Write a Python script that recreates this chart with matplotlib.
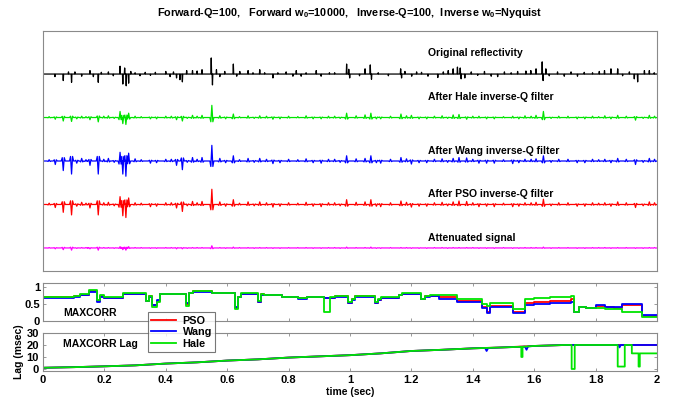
import matplotlib
matplotlib.use("Agg")
import matplotlib.pyplot as plt
import numpy as np

plt.rcParams['font.family'] = ['Liberation Sans', 'DejaVu Sans']
plt.rcParams['font.weight'] = 'bold'
plt.rcParams['mathtext.fontset'] = 'custom'
plt.rcParams['mathtext.rm'] = 'Liberation Sans:bold'
plt.rcParams['mathtext.default'] = 'rm'

# ---------------- data: original reflectivity spikes (time s, amplitude) -------------
refl_t = [0.039, 0.066, 0.083, 0.093, 0.104, 0.126, 0.153, 0.164, 0.180, 0.190, 0.213, 0.229,
          0.251, 0.260, 0.266, 0.271, 0.279, 0.286, 0.300, 0.316, 0.333, 0.350, 0.366, 0.400,
          0.414, 0.425, 0.435, 0.446, 0.454, 0.468, 0.487, 0.502, 0.518, 0.548, 0.552, 0.565,
          0.576, 0.592, 0.620, 0.631, 0.641, 0.668, 0.684, 0.706, 0.722, 0.749, 0.765, 0.792,
          0.814, 0.825, 0.841, 0.857, 0.890, 0.906, 0.933, 0.950, 0.989, 0.996, 0.999, 1.031,
          1.049, 1.066, 1.070, 1.092, 1.125, 1.165, 1.168, 1.179, 1.201, 1.217, 1.233, 1.254,
          1.286, 1.304, 1.320, 1.336, 1.350, 1.359, 1.362, 1.374, 1.395, 1.416, 1.438, 1.460,
          1.481, 1.503, 1.525, 1.546, 1.573, 1.589, 1.606, 1.626, 1.629, 1.638, 1.649, 1.676,
          1.698, 1.720, 1.741, 1.763, 1.790, 1.812, 1.829, 1.850, 1.872, 1.888, 1.910, 1.926,
          1.937, 1.959, 1.975, 1.991]
refl_a = [-0.06, -0.15, 0.05, -0.19, 0.05, -0.05, 0.08, -0.06, -0.19, 0.04, 0.05, -0.04,
          0.18, -0.23, 0.14, -0.27, -0.21, 0.06, 0.03, -0.04, 0.04, -0.03, 0.04, 0.06,
          -0.06, 0.05, -0.09, -0.13, -0.18, 0.08, 0.08, 0.07, 0.10, 0.37, -0.25, 0.10,
          -0.06, 0.06, 0.23, -0.05, 0.06, 0.08, 0.03, 0.10, 0.03, -0.09, 0.03, 0.05,
          -0.05, 0.08, -0.05, 0.03, 0.08, -0.05, 0.03, 0.03, 0.23, 0.11, -0.09, -0.04,
          0.12, 0.21, -0.12, 0.03, -0.04, 0.12, -0.09, 0.06, -0.05, 0.05, 0.04, -0.05,
          -0.08, 0.05, 0.08, 0.12, 0.16, 0.14, -0.11, -0.09, 0.05, -0.03, 0.06, -0.05,
          -0.06, 0.05, 0.03, 0.06, 0.07, 0.08, 0.12, 0.28, -0.15, 0.12, -0.04, 0.05,
          -0.05, 0.05, -0.05, 0.04, 0.03, 0.06, 0.08, 0.12, 0.12, -0.04, 0.05, -0.11,
          -0.18, 0.08, 0.08, 0.03]

# ---------------- data: filtered traces, event times and amplitudes ------------------
ev_t = [0.040, 0.066, 0.093, 0.126, 0.153, 0.180, 0.213, 0.251, 0.260, 0.270, 0.279, 0.300,
        0.350, 0.400, 0.435, 0.454, 0.487, 0.518, 0.550, 0.576, 0.620, 0.668, 0.706, 0.749,
        0.800, 0.857, 0.906, 0.950, 0.989, 1.049, 1.068, 1.100, 1.166, 1.200, 1.250, 1.300,
        1.336, 1.355, 1.380, 1.420, 1.470, 1.530, 1.570, 1.606, 1.630, 1.680, 1.740, 1.790,
        1.830, 1.872, 1.930, 1.975,
        # small wiggles
        0.020, 0.110, 0.140, 0.198, 0.232, 0.320, 0.370, 0.418, 0.470, 0.502,
        0.595, 0.640, 0.688, 0.728, 0.772, 0.830, 0.880, 0.930, 0.968, 1.020,
        1.086, 1.132, 1.184, 1.225, 1.275, 1.318, 1.400, 1.445, 1.500, 1.550,
        1.590, 1.655, 1.710, 1.765, 1.810, 1.850, 1.900, 1.955, 1.992]
hale_a = [-0.04, -0.08, -0.09, 0.03, -0.05, -0.10, 0.04, 0.14, -0.14, -0.16, 0.10, 0.03,
          -0.03, 0.03, -0.05, -0.08, 0.05, 0.05, 0.28, 0.04, 0.08, 0.04, 0.04, -0.04,
          0.03, 0.04, -0.03, 0.03, 0.10, 0.06, 0.10, -0.03, 0.08, 0.05, -0.03, 0.04,
          0.06, 0.07, -0.04, 0.03, -0.03, 0.03, 0.04, 0.05, 0.14, 0.03, -0.03, 0.03,
          0.04, 0.05, -0.06, 0.05,
          0.02, -0.03, 0.02, 0.03, -0.02, 0.02, -0.03, 0.03, -0.02, 0.03,
          -0.03, 0.02, -0.02, 0.03, -0.03, 0.02, -0.03, 0.03, -0.02, 0.04,
          -0.03, 0.03, 0.04, -0.03, 0.03, -0.02, 0.03, -0.03, 0.02, -0.03,
          0.03, -0.02, 0.03, -0.03, 0.02, -0.03, 0.03, -0.02, 0.03]
wang_a = [-0.08, -0.22, -0.30, 0.06, -0.10, -0.30, 0.06, 0.20, -0.30, -0.35, 0.18, 0.05,
          -0.05, 0.04, -0.10, -0.20, 0.08, 0.08, 0.36, 0.06, 0.12, 0.06, 0.06, -0.06,
          0.04, 0.05, -0.05, 0.04, 0.12, 0.06, 0.12, -0.05, 0.08, -0.07, -0.04, 0.05,
          0.06, 0.08, 0.07, -0.05, -0.05, -0.06, 0.04, 0.05, 0.12, 0.04, -0.04, 0.04,
          0.04, 0.06, -0.08, 0.06,
          0.03, -0.05, 0.03, 0.04, -0.03, 0.03, -0.04, 0.04, -0.03, 0.04,
          -0.04, 0.03, -0.03, 0.04, -0.04, 0.03, -0.04, 0.04, -0.03, 0.05,
          -0.04, 0.04, 0.05, -0.04, 0.04, -0.03, 0.04, -0.05, 0.03, -0.04,
          0.04, -0.03, 0.04, -0.04, 0.03, -0.04, 0.04, -0.03, 0.04]
pso_a = [-0.07, -0.18, -0.24, 0.05, -0.08, -0.24, 0.05, 0.18, -0.26, -0.30, 0.15, 0.04,
         -0.05, 0.04, -0.08, -0.16, 0.07, 0.07, 0.35, 0.06, 0.11, 0.06, 0.06, -0.06,
         0.04, 0.05, -0.05, 0.04, 0.11, 0.06, 0.11, -0.05, 0.08, -0.06, -0.04, 0.05,
         0.06, 0.08, 0.07, -0.05, -0.05, -0.05, 0.04, 0.05, 0.12, 0.04, -0.04, 0.04,
         0.04, 0.06, -0.07, 0.06,
         0.03, -0.04, 0.03, 0.04, -0.03, 0.03, -0.04, 0.04, -0.03, 0.04,
         -0.04, 0.03, -0.03, 0.04, -0.04, 0.03, -0.04, 0.04, -0.03, 0.05,
         -0.04, 0.04, 0.05, -0.04, 0.04, -0.03, 0.04, -0.04, 0.03, -0.04,
         0.04, -0.03, 0.04, -0.04, 0.03, -0.04, 0.04, -0.03, 0.04]
atten_a = [-0.02, -0.04, -0.05, 0.01, -0.02, -0.05, 0.01, 0.03, -0.04, -0.05, 0.03, 0.01,
           -0.01, 0.01, -0.02, -0.02, 0.01, 0.01, 0.05, 0.01, 0.02, 0.01, 0.01, -0.01,
           0.01, 0.01, -0.01, 0.01, 0.02, 0.01, 0.02, -0.01, 0.01, -0.01, -0.01, 0.01,
           0.01, 0.01, 0.01, -0.01, -0.01, -0.01, 0.01, 0.01, 0.02, 0.01, -0.01, 0.01,
           0.01, 0.01, -0.01, 0.01,
           0.01, -0.01, 0.01, 0.01, -0.01, 0.01, -0.01, 0.01, -0.01, 0.01,
           -0.01, 0.01, -0.01, 0.01, -0.01, 0.01, -0.01, 0.01, -0.01, 0.01,
           -0.01, 0.01, 0.01, -0.01, 0.01, -0.01, 0.01, -0.01, 0.01, -0.01,
           0.01, -0.01, 0.01, -0.01, 0.01, -0.01, 0.01, -0.01, 0.01]

trace_labels = ["Original reflectivity", "After Hale inverse-Q filter", "After Wang inverse-Q filter",
                "After PSO inverse-Q filter", "Attenuated signal"]

# ---------------- data: MAXCORR (step values starting at each time) -------------------
corr_t = [0.00, 0.10, 0.12, 0.15, 0.175, 0.185, 0.20, 0.26, 0.335, 0.345, 0.355, 0.37, 0.38,
          0.465, 0.475, 0.49, 0.55, 0.625, 0.635, 0.645, 0.70, 0.71, 0.72, 0.78, 0.83, 0.86,
          0.915, 0.935, 0.95, 0.995, 1.005, 1.015, 1.08, 1.09, 1.10, 1.16, 1.17, 1.23, 1.245,
          1.26, 1.29, 1.35, 1.43, 1.445, 1.455, 1.53, 1.57, 1.60, 1.65, 1.72, 1.73, 1.745,
          1.77, 1.80, 1.83, 1.86, 1.885, 1.905, 1.95, 2.00]
corr_wang = [0.68, 0.72, 0.76, 0.86, 0.55, 0.72, 0.68, 0.80, 0.58, 0.72, 0.48, 0.62, 0.80,
             0.52, 0.82, 0.86, 0.84, 0.40, 0.72, 0.80, 0.55, 0.78, 0.78, 0.72, 0.66, 0.70,
             0.68, 0.68, 0.72, 0.52, 0.62, 0.72, 0.52, 0.62, 0.68, 0.76, 0.80, 0.64, 0.72,
             0.74, 0.66, 0.56, 0.38, 0.24, 0.42, 0.25, 0.47, 0.50, 0.53, 0.57, 0.26, 0.42,
             0.38, 0.46, 0.42, 0.40, 0.50, 0.50, 0.18, 0.18]
corr_pso = [0.70, 0.73, 0.78, 0.88, 0.58, 0.75, 0.69, 0.81, 0.59, 0.73, 0.46, 0.60, 0.81,
            0.50, 0.83, 0.87, 0.84, 0.38, 0.72, 0.81, 0.56, 0.79, 0.78, 0.72, 0.67, 0.70,
            0.68, 0.69, 0.73, 0.53, 0.64, 0.73, 0.53, 0.63, 0.69, 0.77, 0.81, 0.65, 0.73,
            0.75, 0.70, 0.60, 0.42, 0.28, 0.45, 0.28, 0.52, 0.55, 0.59, 0.64, 0.26, 0.41,
            0.37, 0.44, 0.41, 0.38, 0.47, 0.46, 0.16, 0.16]
corr_hale = [0.72, 0.74, 0.80, 0.90, 0.62, 0.78, 0.70, 0.82, 0.60, 0.74, 0.40, 0.55, 0.80,
             0.45, 0.84, 0.88, 0.84, 0.36, 0.72, 0.82, 0.58, 0.80, 0.78, 0.72, 0.68, 0.70,
             0.28, 0.70, 0.74, 0.55, 0.66, 0.74, 0.55, 0.64, 0.70, 0.78, 0.82, 0.66, 0.74,
             0.76, 0.76, 0.66, 0.50, 0.45, 0.54, 0.36, 0.66, 0.68, 0.70, 0.74, 0.28, 0.40,
             0.38, 0.38, 0.36, 0.34, 0.28, 0.26, 0.12, 0.12]

# ---------------- data: MAXCORR Lag (msec) --------------------------------------------
lag_pso_t = [0.0, 0.1, 0.2, 0.3, 0.4, 0.5, 0.6, 0.7, 0.8, 0.9, 1.0, 1.1, 1.2, 1.3, 1.4, 1.5,
             1.6, 1.7, 2.0]
lag_pso = [1.0, 1.5, 2.2, 3.0, 4.5, 5.5, 7.0, 8.0, 9.5, 10.5, 11.5, 13.0, 15.0, 16.0, 17.2, 18.0,
           19.2, 20.0, 20.0]
lag_wang_t = [0.0, 0.1, 0.2, 0.3, 0.4, 0.5, 0.6, 0.7, 0.8, 0.9, 1.0, 1.1, 1.2, 1.3, 1.4, 1.44,
              1.445, 1.45, 1.5, 1.57, 1.575, 1.58, 1.6, 1.7, 1.875, 1.878, 1.882, 2.0]
lag_wang = [1.0, 1.5, 2.2, 3.0, 4.5, 5.5, 7.0, 8.0, 9.5, 10.5, 11.5, 13.0, 15.0, 16.0, 17.2, 17.5,
            15.0, 17.5, 18.0, 18.6, 16.0, 18.8, 19.2, 20.0, 20.0, 18.0, 20.0, 20.0]
lag_hale_t = [0.0, 0.1, 0.2, 0.3, 0.4, 0.5, 0.6, 0.7, 0.8, 0.9, 1.0, 1.1, 1.2, 1.3, 1.4, 1.5,
              1.558, 1.558, 1.562, 1.562, 1.6, 1.7, 1.722, 1.722, 1.732, 1.732, 1.872, 1.872,
              1.895, 1.895, 1.918, 1.918, 1.94, 1.94, 1.944, 1.944, 2.0]
lag_hale = [1.0, 1.5, 2.2, 3.0, 4.5, 5.5, 7.0, 8.0, 9.5, 10.5, 11.5, 13.0, 15.0, 16.0, 17.2, 18.0,
            18.5, 10.0, 10.0, 18.5, 19.2, 20.0, 20.0, 0.0, 0.0, 20.0, 20.0, 2.0,
            2.0, 20.0, 20.0, 13.0, 13.0, 2.0, 2.0, 13.0, 13.0]

x_ticks = [0, 0.2, 0.4, 0.6, 0.8, 1, 1.2, 1.4, 1.6, 1.8, 2]
x_tick_labels = ["0", "0.2", "0.4", "0.6", "0.8", "1", "1.2", "1.4", "1.6", "1.8", "2"]

# ---------------- styles ----------------
C_BLACK = "black"
C_GREEN = "#00e400"
C_BLUE = "#0000ff"
C_RED = "#ff0000"
C_MAG = "#ff00ff"
SPINE = "#8a8a8a"


def spike_line(ts, amps, half):
    xs, ys = [0.0], [0.0]
    for t, a in sorted(zip(ts, amps)):
        xs += [t - half, t, t + half]
        ys += [0.0, a, 0.0]
    xs.append(2.0)
    ys.append(0.0)
    return np.array(xs), np.array(ys)


def wavelet_line(ts, amps, half, lobe=0.35):
    xs, ys = [0.0], [0.0]
    for t, a in sorted(zip(ts, amps)):
        xs += [t - 2 * half, t - half, t, t + half, t + 2 * half]
        ys += [0.0, -lobe * a, a, -lobe * a, 0.0]
    xs.append(2.0)
    ys.append(0.0)
    return np.array(xs), np.array(ys)


fig = plt.figure(figsize=(6.73, 4.0), dpi=100)
L, W = 43 / 673, (657 - 43) / 673
ax1 = fig.add_axes([L, 1 - 271 / 400, W, 240 / 400])
ax2 = fig.add_axes([L, 1 - 321 / 400, W, 38 / 400])
ax3 = fig.add_axes([L, 1 - 371 / 400, W, 38 / 400])

for ax in (ax1, ax2, ax3):
    for s in ax.spines.values():
        s.set_color(SPINE)
        s.set_linewidth(0.8)
    ax.set_xlim(0, 2)

# top panel
offsets = [4, 3, 2, 1, 0]
x, y = spike_line(refl_t, refl_a, 0.0012)
ax1.plot(x, y + offsets[0], color=C_BLACK, lw=0.9)
for amps, col, off in ((hale_a, C_GREEN, offsets[1]), (wang_a, C_BLUE, offsets[2]),
                       (pso_a, C_RED, offsets[3]), (atten_a, C_MAG, offsets[4])):
    x, y = wavelet_line(ev_t, amps, 0.0033)
    ax1.plot(x, y + off, color=col, lw=0.9)
label_y = [4.48, 3.47, 2.23, 1.24, 0.23]
for lab, ly in zip(trace_labels, label_y):
    ax1.text(1.254, ly, lab, fontsize=7.5, fontweight='bold', va='center', ha='left')
ax1.set_ylim(-0.53, 4.99)
ax1.set_xticks([])
ax1.set_yticks([])
ax1.set_title("Forward-Q=100,   Forward w$_0$=10000,   Inverse-Q=100,  Inverse w$_0$=Nyquist",
              fontsize=7.8, fontweight='bold', pad=11)

# middle panel
ax2.plot(corr_t, corr_pso, color=C_RED, lw=1.3, drawstyle='steps-post', label='PSO')
ax2.plot(corr_t, corr_wang, color=C_BLUE, lw=1.3, drawstyle='steps-post', label='Wang')
ax2.plot(corr_t, corr_hale, color=C_GREEN, lw=1.3, drawstyle='steps-post', label='Hale')
ax2.set_ylim(0, 1.12)
ax2.set_yticks([0, 0.5, 1])
ax2.set_yticklabels(["0", "0.5", "1"])
ax2.set_xticks(x_ticks)
ax2.set_xticklabels([])
ax2.tick_params(direction='in', length=2.5, width=0.6, color=SPINE, right=True, top=True,
                labelsize=8, pad=2)
ax2.text(0.065, 0.24, "MAXCORR", fontsize=7.5, fontweight='bold', va='center')

# bottom panel
ax3.plot(lag_pso_t, lag_pso, color=C_RED, lw=1.3)
ax3.plot(lag_wang_t, lag_wang, color=C_BLUE, lw=1.3)
ax3.plot(lag_hale_t, lag_hale, color=C_GREEN, lw=1.3)
ax3.set_ylim(-1.7, 30)
ax3.set_yticks([0, 10, 20, 30])
ax3.set_xticks(x_ticks)
ax3.set_xticklabels(x_tick_labels)
ax3.tick_params(direction='in', length=2.5, width=0.6, color=SPINE, right=True, top=True,
                labelsize=8, pad=3)
for lab in ax3.get_xticklabels() + ax3.get_yticklabels() + ax2.get_yticklabels():
    lab.set_fontweight('bold')
ax3.text(0.065, 20.5, "MAXCORR Lag", fontsize=7.5, fontweight='bold', va='center')
ax3.set_xlabel("time (sec)", fontsize=7.5, fontweight='bold', labelpad=1)
ax3.set_ylabel("Lag (msec)", fontsize=7.5, fontweight='bold', labelpad=2)

h, l = ax2.get_legend_handles_labels()
leg = fig.legend(h, l, loc='lower left', bbox_to_anchor=(148 / 673, 1 - 352 / 400),
                 fontsize=7.8, frameon=True, fancybox=False, edgecolor='#555555',
                 handlelength=2.3, handletextpad=0.6, borderpad=0.3, labelspacing=0.15,
                 borderaxespad=0)
leg.get_frame().set_linewidth(0.8)
for t in leg.get_texts():
    t.set_fontweight('bold')

fig.savefig("out.png", dpi=100)
